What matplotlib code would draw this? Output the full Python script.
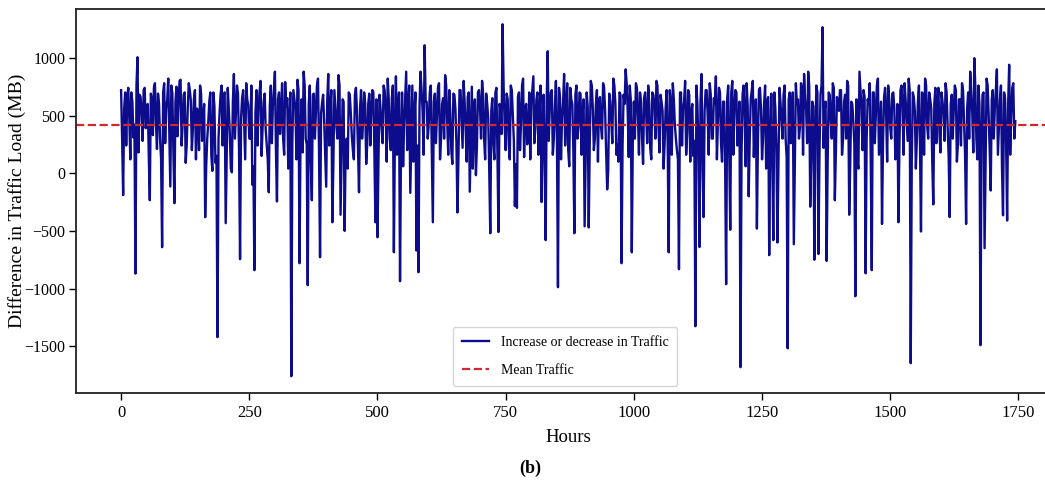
"""
Hourly traffic load difference with mean line, panel (b).

Usage:
    python plot.py
"""

import numpy as np
import matplotlib
matplotlib.use('Agg')
import matplotlib.pyplot as plt

# ============== Data ==============
HOUR_STEP = 2

# values at hours 0, 4, 8, ... (spikes and dips sit here)
TRAFFIC_EVEN = [
    # 0 - 96
    720, -190, 700, 650, 480, 700, 310, -870, 1005, 680, 520, 720, 390,
    600, -234, 640, 740, 430, 690, 300, -641, 780, 560, 820, -115,
    # 100 - 196
    690, -260, 750, 590, 810, 420, 700, 250, 780, 630, 380, 720, 560,
    200, 690, 480, -381, 300, 620, 150, 700, 90, -1421, 520, 760,
    # 200 - 296
    680, -433, 740, 350, 8, 860, 520, 690, -745, 650, 420, 780, 590,
    300, -100, -840, 720, 550, 800, 400, 690, 250, -165, 760, 580,
    # 300 - 396
    880, -245, 700, 520, 300, 790, 650, 420, -1759, 720, 560, 810, -780,
    640, 880, 300, -970, 760, -234, 690, 540, 820, -728, 610, 450,
    # 400 - 496
    -117, 860, 560, -425, 720, 400, 850, -360, 640, -500, 300, 700, 520,
    200, 680, 540, -165, 720, 450, 610, 250, 690, 520, 700, -425,
    # 500 - 596
    -555, 680, 400, 760, 540, 820, 300, 650, -685, 840, 520, -936, 700,
    420, 880, 600, -170, 760, 500, -670, -858, 880, 540, 1109, 620,
    # 600 - 696
    420, 760, -425, 690, 500, 780, 300, 650, 850, 440, 720, 200, 690,
    560, -340, 720, 480, 800, 380, 660, -160, 750, 540, -17, 700,
    # 700 - 796
    560, 800, 300, 690, 480, -520, 650, 120, 740, -510, 560, 1291, 420,
    690, 250, 760, 500, -285, -300, 700, 430, 820, 560, 250, 700,
    # 800 - 896
    600, 840, 400, 700, 520, -250, 680, -580, 1057, 560, 720, 300, 800,
    -988, 650, 480, 860, 560, 200, 740, 600, -520, 760, 400, 690,
    # 900 - 996
    520, -460, 700, -470, 800, 560, 300, 720, 620, 400, 780, 540, -140,
    690, 450, 820, 600, 250, 700, -780, 680, 900, 540, 760, -685,
    # 1000 - 1096
    620, 780, 480, 700, 300, 650, 520, 760, 216, 700, 580, 800, 400,
    680, 540, 250, 720, -685, 600, 780, 420, 200, -832, 700, 560,
    # 1100 - 1196
    800, 350, 680, 520, 150, -1326, 600, -640, 860, -380, 720, 500, 780,
    300, 650, 840, 460, 700, 100, 620, -962, 760, -490, 800, 540,
    # 1200 - 1296
    700, 400, -1681, 680, 520, 780, -200, 640, 800, 450, -480, 720, 560,
    300, 760, 620, -710, 690, -580, 560, -600, 740, 450, 680, 300,
    # 1300 - 1396
    -1517, 700, 520, -615, 780, 640, 400, 720, 860, 550, 880, -290, 620,
    -750, 760, -700, 680, 1265, 540, -760, 700, 450, 780, -234, 660,
    # 1400 - 1496
    540, 720, 300, 680, 800, -360, 620, 450, -1066, 100, 880, 560, 720,
    -867, 640, 780, -840, 700, 500, 820, 380, -440, 660, 520, 760,
    # 1500 - 1596
    400, 690, 560, 200, -425, 720, 600, 780, 450, 820, -1646, 700, 540,
    300, 760, -505, 680, 820, 420, 700, 560, -270, 740, 600, 350,
    # 1600 - 1696
    700, 520, 780, 400, -380, 680, 560, 720, 250, 640, 780, 450, -440,
    700, 880, 520, 997, 300, 760, -1490, 680, -650, 820, 500, -150,
    # 1700 - 1744
    720, 560, 900, 400, 760, -365, 650, -410, 940, 500, 780, 450,
]

# values at hours 2, 6, 10, ... (the dense body of the band)
TRAFFIC_ODD = [
    300, 560, 240, 740, 120, 620, 420, 760, 180, 660, 280, 740, 460,
    150, 690, 330, 780, 210, 600, 120, 700, 260, 640, 350, 760,
    180, 620, 320, 800, 240, 680, 90, 560, 720, 200, 640, 120, 500,
    760, 280, 600, 60, 440, 700, 20, 580, 150, 300, 680, 240,
    700, 160, 560, 40, 620, 300, 760, 200, 480, 720, 120, 640, 300,
    760, 60, 520, 240, 700, 150, 620, 380, 120, 580, 260, 720,
    200, 640, 340, 780, 160, 580, 40, 700, 280, 640, 120, 720, 360,
    180, 760, 250, 600, 100, 680, 300, 760, 200, 520, 680, 160,
    620, 240, 720, 80, 560, 300, 760, 140, 620, 260, 40, 680, 320,
    120, 740, 220, 560, 300, 700, 80, 600, 240, 720, 180, 640,
    120, 560, 260, 720, 100, 640, 200, 760, 320, 160, 700, 280, 60,
    640, 200, 760, 320, 100, 700, 240, 580, 720, 160, 620, 300,
    700, 180, 620, 260, 740, 120, 600, 300, 760, 160, 520, 80, 680,
    260, 160, 720, 220, 620, 100, 700, 300, 40, 640, 240, 720,
    300, 680, 120, 600, 20, 540, 260, 700, 160, 600, 340, 760, 200,
    640, 120, 720, 280, 80, 660, 200, 760, 140, 600, 320, 120,
    720, 260, 640, 160, 760, 300, 100, 620, 280, 700, 160, 580, 300,
    740, 120, 620, 240, 780, 60, 640, 200, 680, 300, 700, 160,
    640, 120, 580, 260, 760, 200, 600, 100, 660, 300, 740, 180, 20,
    620, 260, 760, 160, 100, 680, 240, 600, 780, 140, 640, 280,
    300, 740, 160, 620, 80, 700, 260, 600, 120, 680, 300, 760, 180,
    620, 40, 560, 260, 720, 160, 640, 300, 120, 700, 240, 620,
    160, 720, 100, 600, 280, 760, 200, 620, 40, 540, 720, 160, 680,
    300, 600, 120, 740, 260, 620, 80, 640, 200, 700, 160, 720,
    240, 620, 160, 760, 60, 580, 300, 720, 140, 640, 280, 740, 120,
    600, 40, 660, 260, 160, 700, 220, 80, 620, 300, 760, 140,
    640, 260, 700, 120, 600, 300, 780, 160, 640, 260, 760, 120, 580,
    280, 700, 160, 760, 220, 620, 100, 680, 300, 740, 180, 620,
    720, 160, 620, 300, 760, 80, 600, 260, 640, 40, 720, 200, 660,
    300, 600, 120, 700, 260, 760, 160, 620, 280, 740, 100, 640,
    300, 700, 120, 600, 240, 760, 160, 640, 280, 720, 100, 660, 40,
    620, 260, 700, 160, 760, 300, 640, 100, 600, 260, 740, 180,
    620, 280, 700, 140, 600, 300, 760, 100, 640, 240, 720, 160, 560,
    300, 680, 180, 740, 120, 600, 260, 700, 60, 760, 200, 640,
    300, 720, 160, 640, 40, 700, 260, 600, 160, 740, 300,
]

MEAN_TRAFFIC = 420

X_TICKS = [0, 250, 500, 750, 1000, 1250, 1500, 1750]
Y_TICKS = [-1500, -1000, -500, 0, 500, 1000]

LINE_LABEL = 'Increase or decrease in Traffic'
MEAN_LABEL = 'Mean Traffic'
X_LABEL = 'Hours'
Y_LABEL = 'Difference in Traffic Load (MB)'
CAPTION = '(b)'

# ============== Style ==============
LINE_COLOR = '#0c0c8c'
MEAN_COLOR = '#cc2a2e'
FONT = ['Liberation Serif', 'DejaVu Serif']


def build_series():
    """Interleave the 4-hour readings with the in-between readings."""
    values = []
    for i, v in enumerate(TRAFFIC_EVEN):
        values.append(v)
        if i < len(TRAFFIC_ODD):
            values.append(TRAFFIC_ODD[i])
    values = np.array(values)
    hours = np.arange(len(values)) * HOUR_STEP
    return hours, values


def plot_traffic(output_file: str):
    """Draw the traffic difference series and its mean."""
    plt.rcParams['font.family'] = FONT
    hours, values = build_series()

    fig = plt.figure(figsize=(10.45, 4.86), dpi=100)
    # axes run a little past the right edge, as in the cropped original
    ax = fig.add_axes([0.0727, 0.191, 0.9416, 0.790])

    ax.plot(hours, values, color=LINE_COLOR, linewidth=1.7, label=LINE_LABEL)
    ax.axhline(MEAN_TRAFFIC, color=MEAN_COLOR, linestyle='--',
               linewidth=1.6, label=MEAN_LABEL)

    ax.set_xlim(-88, 1831)
    ax.set_ylim(-1906, 1421)
    ax.set_xticks(X_TICKS)
    ax.set_yticks(Y_TICKS)
    ax.tick_params(length=5, width=1)
    ax.tick_params(axis='x', labelsize=12)
    ax.tick_params(axis='y', labelsize=11.5, pad=2.5)
    ax.set_xlabel(X_LABEL, fontsize=13.5, labelpad=6)
    ax.set_ylabel(Y_LABEL, fontsize=14)
    ax.yaxis.set_label_coords(-0.051, 0.5)

    for spine in ax.spines.values():
        spine.set_linewidth(1.3)
        spine.set_color('#222222')

    ax.legend(loc='lower center', bbox_to_anchor=(0.497, 0.0),
              fontsize=10, labelspacing=1.1, borderpad=0.65,
              frameon=True, fancybox=True, edgecolor='#cccccc',
              handlelength=2.0)

    fig.text(0.507, 0.037, CAPTION, fontsize=13, fontweight='bold',
             ha='center', va='center')

    fig.savefig(output_file, dpi=100)
    plt.close(fig)


if __name__ == '__main__':
    plot_traffic('out.png')
